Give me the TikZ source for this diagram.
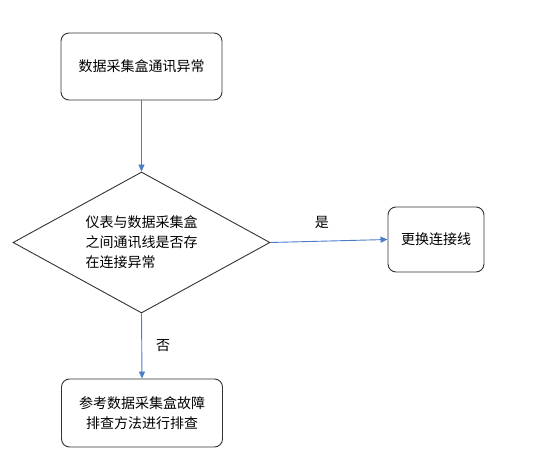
\documentclass[tikz,border=0pt]{standalone}
\usepackage{fontspec}
\newfontfamily\cjk{Noto Sans CJK SC}
\usepackage{tikz}
\usetikzlibrary{arrows.meta,shapes.geometric}
\definecolor{ink}{HTML}{333333}
\definecolor{flowblue}{HTML}{4A7CC8}
\tikzset{>={Triangle[length=7pt,width=6pt]},
  txt/.style={font=\cjk\fontsize{14}{20}\selectfont,text=black},
  box/.style={txt,draw=ink,line width=0.9pt,rounded corners=8pt,fill=white,align=center,inner sep=0pt},
  decide/.style={txt,diamond,draw=ink,line width=0.9pt,aspect=1.82,inner sep=0pt,
    minimum width=257pt,minimum height=141pt,align=left},
  flow/.style={draw=flowblue,line width=0.9pt,->},
  lab/.style={txt,inner sep=1pt}}
\begin{document}
\begin{tikzpicture}[x=1pt,y=-1pt]
  \useasboundingbox (0,0) rectangle (533,473);
  \node[box,minimum width=161pt,minimum height=67pt] (start) at (141.5,66.5) {数据采集盒通讯异常};
  \node[decide] (check) at (141.5,242.5) {仪表与数据采集盒\\之间通讯线是否存\\在连接异常};
  \node[box,minimum width=96pt,minimum height=65pt] (fix) at (436,239.5) {更换连接线};
  \node[box,minimum width=161pt,minimum height=68pt] (guide) at (142,413) {参考数据采集盒故障\\排查方法进行排查};
  \draw[flow] (start) -- (check);
  \draw[flow] (check.east) -- node[lab,above=11pt,pos=0.44] (yes) {是} (fix.west);
  \draw[flow] (check.south) -- node[lab,right=13pt,midway] (no) {否} (guide.north);
\end{tikzpicture}
\end{document}
